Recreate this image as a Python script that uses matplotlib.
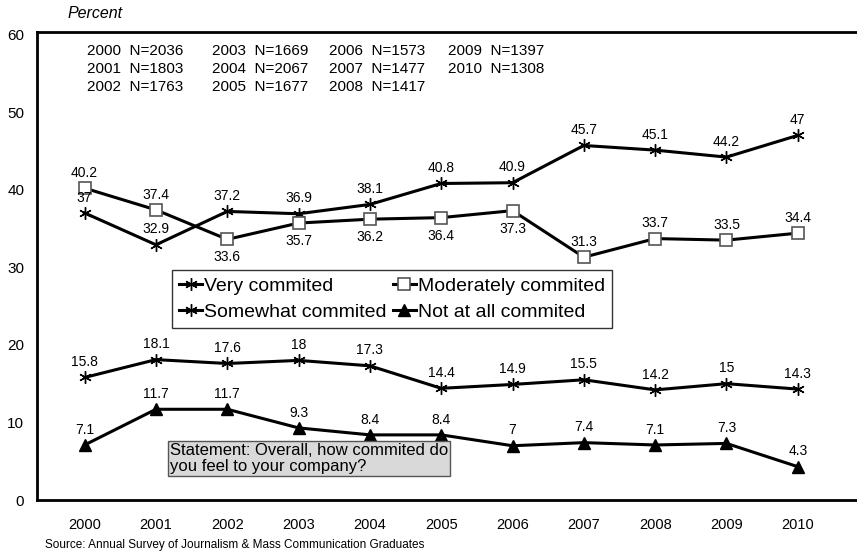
import matplotlib.pyplot as plt

plt.rcParams['font.family'] = ['Liberation Sans', 'DejaVu Sans']

years = [2000, 2001, 2002, 2003, 2004, 2005, 2006, 2007, 2008, 2009, 2010]
very = [37, 32.9, 37.2, 36.9, 38.1, 40.8, 40.9, 45.7, 45.1, 44.2, 47]
moderately = [40.2, 37.4, 33.6, 35.7, 36.2, 36.4, 37.3, 31.3, 33.7, 33.5, 34.4]
somewhat = [15.8, 18.1, 17.6, 18, 17.3, 14.4, 14.9, 15.5, 14.2, 15, 14.3]
not_at_all = [7.1, 11.7, 11.7, 9.3, 8.4, 8.4, 7, 7.4, 7.1, 7.3, 4.3]
# which moderately labels sit below the point
mod_below = [False, False, True, True, True, True, True, False, False, False, False]
sample_n = [2036, 1803, 1763, 1669, 2067, 1677, 1573, 1477, 1417, 1397, 1308]

fig = plt.figure(figsize=(8.57, 5.55), dpi=100)
ax = fig.add_axes([0.043, 0.099, 0.957, 0.843])

star = (6, 2, 0)
l_very, = ax.plot(years, very, color='black', lw=2.2, marker=star, ms=9, mew=1.0, label='Very commited')
l_mod, = ax.plot(years, moderately, color='black', lw=2.2, marker='s', ms=8, mfc='white',
                 mec='#555555', mew=1.2, label='Moderately commited')
l_some, = ax.plot(years, somewhat, color='black', lw=2.2, marker=star, ms=9, mew=1.0,
                  label='Somewhat commited')
l_not, = ax.plot(years, not_at_all, color='black', lw=2.2, marker='^', ms=8, label='Not at all commited')

lab = dict(textcoords='offset points', ha='center', fontsize=10)
for x, v in zip(years, very):
    ax.annotate(f'{v:g}', (x, v), xytext=(0, 6), va='bottom', **lab)
for x, v, b in zip(years, moderately, mod_below):
    ax.annotate(f'{v:g}', (x, v), xytext=(0, -8 if b else 6), va='top' if b else 'bottom', **lab)
for x, v in zip(years, somewhat):
    ax.annotate(f'{v:g}', (x, v), xytext=(0, 6), va='bottom', **lab)
for x, v in zip(years, not_at_all):
    ax.annotate(f'{v:g}', (x, v), xytext=(0, 6), va='bottom', **lab)

ax.set_xlim(1999.33, 2010.83)
ax.set_ylim(0, 60.3)
ax.set_xticks(years)
ax.set_yticks([0, 10, 20, 30, 40, 50, 60])
ax.tick_params(length=0)
ax.tick_params(axis='y', labelsize=11, pad=9)
ax.tick_params(axis='x', labelsize=10.5, pad=13)
for s in ['left', 'bottom', 'top']:
    ax.spines[s].set_linewidth(2)
ax.spines['right'].set_visible(False)

# sample sizes
col_x = [87, 212, 329, 448]
row_y = [51, 69, 87]
for i, (yr, n) in enumerate(zip(years, sample_n)):
    c, r = divmod(i, 3)
    fig.text(col_x[c] / 857, 1 - row_y[r] / 555, f'{yr}  N={n}', fontsize=11,
             ha='left', va='center')

leg = ax.legend([l_very, l_some, l_mod, l_not],
                ['Very commited', 'Somewhat commited', 'Moderately commited', 'Not at all commited'],
                ncol=2, loc='upper left', bbox_to_anchor=(0.165, 0.491), fontsize=14,
                frameon=True, fancybox=False, edgecolor='black', borderpad=0.35,
                handlelength=1.2, handletextpad=0.1, columnspacing=0.3, labelspacing=0.45,
                borderaxespad=0)
leg.get_frame().set_linewidth(1)
leg.set_zorder(5)

ax.text(0.162, 0.122, 'Statement: Overall, how commited do\nyou feel to your company?',
        transform=ax.transAxes, fontsize=12, ha='left', va='top', linespacing=1.05,
        bbox=dict(boxstyle='square,pad=0.12', fc='#d9d9d9', ec='#555555', lw=1))

fig.text(67 / 857, 1 - 13 / 555, 'Percent', fontsize=11.5, style='italic', va='center')
fig.text(45 / 857, 1 - 545 / 555, 'Source: Annual Survey of Journalism & Mass Communication Graduates',
         fontsize=8.5, va='center')

fig.savefig('out.png', dpi=100)
